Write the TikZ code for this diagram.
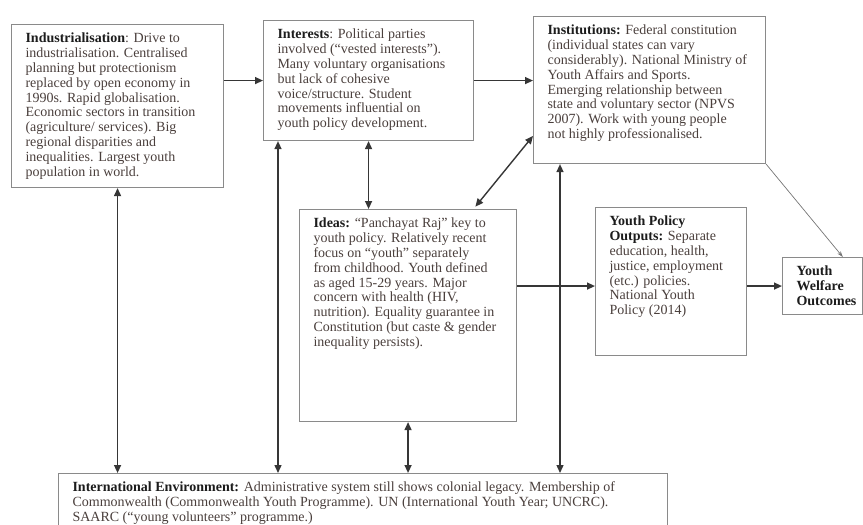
\documentclass[tikz,border=0pt]{standalone}
\usepackage{fontspec}
\setmainfont{Liberation Serif}
\usetikzlibrary{arrows.meta, calc}
\definecolor{boxgray}{HTML}{8A8A8A}
\definecolor{inkgray}{HTML}{363636}
\definecolor{txtbrown}{HTML}{4A3F3C}
\definecolor{headblk}{HTML}{1C1C1C}
\newcommand{\boxbody}[3]{\parbox[t][#2][t]{#1}{\begin{tabular}[t]{@{}l@{}}#3\end{tabular}}}
\newcommand{\hd}[1]{\textbf{\color{headblk}#1}}

\begin{document}
\begin{tikzpicture}[x=1pt, y=-1pt,
  box/.style={draw=boxgray, line width=1.1pt, anchor=north west,
    inner xsep=14pt, inner ysep=8pt, text=txtbrown,
    font=\fontsize{14}{14.8}\selectfont},
  >={Triangle[length=8pt, width=7pt]},
  arr/.style={draw=inkgray, line width=1.4pt, ->},
  biarr/.style={draw=inkgray, line width=1.4pt, <->},
  thinarr/.style={draw=boxgray!85!black, line width=0.7pt,
    -{Stealth[length=6pt, width=4pt]}},
]
\useasboundingbox (0,0) rectangle (863,525);
\clip (0,0) rectangle (863,525);

% Boxes
\node[box] (ind) at (11,24) {\boxbody{184pt}{147pt}{%
  \hd{Industrialisation}: Drive to\\
  industrialisation. Centralised\\
  planning but protectionism\\
  replaced by open economy in\\
  1990s. Rapid globalisation.\\
  Economic sectors in transition\\
  (agriculture/ services). Big\\
  regional disparities and\\
  inequalities. Largest youth\\
  population in world.}};

\node[box] (int) at (263,20) {\boxbody{182pt}{104pt}{%
  \hd{Interests}: Political parties\\
  involved (“vested interests”).\\
  Many voluntary organisations\\
  but lack of cohesive\\
  voice/structure. Student\\
  movements influential on\\
  youth policy development.}};

\node[box] (inst) at (533,16) {\boxbody{204pt}{131pt}{%
  \hd{Institutions:} Federal constitution\\
  (individual states can vary\\
  considerably). National Ministry of\\
  Youth Affairs and Sports.\\
  Emerging relationship between\\
  state and voluntary sector (NPVS\\
  2007). Work with young people\\
  not highly professionalised.}};

\node[box] (ideas) at (299,209) {\boxbody{189pt}{196pt}{%
  \hd{Ideas:} “Panchayat Raj” key to\\
  youth policy. Relatively recent\\
  focus on “youth” separately\\
  from childhood. Youth defined\\
  as aged 15-29 years. Major\\
  concern with health (HIV,\\
  nutrition). Equality guarantee in\\
  Constitution (but caste \& gender\\
  inequality persists).}};

\node[box] (ypo) at (595,207) {\boxbody{123pt}{132pt}{%
  \hd{Youth Policy}\\
  \hd{Outputs:} Separate\\
  education, health,\\
  justice, employment\\
  (etc.) policies.\\
  National Youth\\
  Policy (2014)}};

\node[box] (ywo) at (782,257) {\boxbody{52pt}{41pt}{%
  \hd{Youth}\\
  \hd{Welfare}\\
  \hd{Outcomes}}};

\node[box] (intl) at (58,473) {\boxbody{581pt}{54pt}{%
  \hd{International Environment:} Administrative system still shows colonial legacy. Membership of\\
  Commonwealth (Commonwealth Youth Programme). UN (International Youth Year; UNCRC).\\
  SAARC (“young volunteers” programme.)}};

% Connectors
\draw[arr] (int.west -| ind.east) -- (int.west);
\draw[arr] (int.east) -- (int.east -| inst.west);
\draw[biarr] (int.south) -- (int.south |- ideas.north);
\draw[biarr, shorten <=3pt] ($(ideas.north west)!0.8!(ideas.north east)$)
  -- ($(inst.north west)!0.81!(inst.south west)$);
\draw[arr] (ideas.east |- ywo.west) -- (ypo.west |- ywo.west);
\draw[arr] (ypo.east |- ywo.west) -- (ywo.west);
\draw[thinarr] (inst.south east) -- ($(ywo.north west)!0.75!(ywo.north east)$);

% Links down to the international environment
\coordinate (intdrop) at ([xshift=15pt]int.south west);
\coordinate (instdrop) at ([xshift=27pt]inst.south west);
\draw[biarr] (ind.south) -- (ind.south |- intl.north);
\draw[biarr] (intdrop) -- (intdrop |- intl.north);
\draw[biarr] (ideas.south) -- (ideas.south |- intl.north);
\draw[biarr] (instdrop) -- (instdrop |- intl.north);
\end{tikzpicture}
\end{document}
